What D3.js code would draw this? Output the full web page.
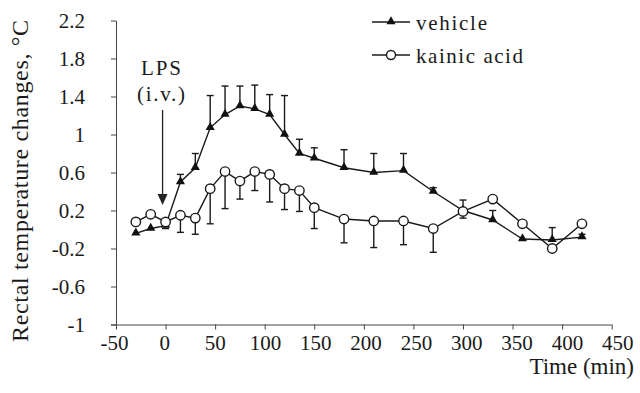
<!DOCTYPE html>
<html>
<head>
<meta charset="utf-8">
<script src="https://cdn.jsdelivr.net/npm/d3@7"></script>
<style>
  body { margin: 0; background: #fff; }
  svg text { font-family: "Liberation Serif", Tinos, "Times New Roman", serif; }
</style>
</head>
<body>
<div id="chart"></div>
<script>
// time points (min)
const times = [-30, -15, 0, 15, 30, 45, 60, 75, 90, 105, 120, 135, 150, 180, 210, 240, 270, 300, 330, 360, 390, 420]

// vehicle: mean and upper error
const vehicle = [-0.04, 0.01, 0.04, 0.50, 0.65, 1.07, 1.21, 1.30, 1.27, 1.21, 1.00, 0.80, 0.75, 0.65, 0.60, 0.62, 0.40, 0.20, 0.10, -0.10, -0.11, -0.08]
const vehicleErr = [0, 0, 0, 0.08, 0.15, 0.34, 0.30, 0.21, 0.25, 0.21, 0.41, 0.15, 0.11, 0.19, 0.20, 0.18, 0.04, 0.11, 0.10, 0, 0.13, 0.03]

// kainic acid: mean and lower error
const kainic = [0.08, 0.16, 0.08, 0.15, 0.12, 0.43, 0.61, 0.51, 0.61, 0.58, 0.43, 0.41, 0.23, 0.11, 0.09, 0.09, 0.01, 0.19, 0.32, 0.06, -0.20, 0.06]
const kainicErr = [0, 0, 0.07, 0.18, 0.17, 0.37, 0.39, 0.19, 0.20, 0.29, 0.22, 0.22, 0.22, 0.25, 0.28, 0.25, 0.25, 0.07, 0.02, 0.02, 0.03, 0]

const xTicks = [-50, 0, 50, 100, 150, 200, 250, 300, 350, 400, 450]
const yTicks = [-1, -0.6, -0.2, 0.2, 0.6, 1, 1.4, 1.8, 2.2]

const width = 640, height = 393
const serif = 'Liberation Serif'
const ink = '#1a1a1a'

const svg = d3.select('#chart').append('svg')
  .attr('width', width)
  .attr('height', height)
  .attr('font-family', serif)

svg.append('rect').attr('width', width).attr('height', height).attr('fill', '#fff')

const x = d3.scaleLinear().domain([-50, 450]).range([116, 611.7])
const y = d3.scaleLinear().domain([-1, 2.2]).range([324.5, 20.5])

const fmt = d => String(d).replace('−', '-')

// axes
const xAxis = svg.append('g')
  .attr('transform', `translate(0,${y(-1)})`)
  .call(d3.axisBottom(x).tickValues(xTicks).tickSize(5).tickSizeOuter(0).tickPadding(6).tickFormat(fmt))
const yAxis = svg.append('g')
  .attr('transform', `translate(${x(-50)},0)`)
  .call(d3.axisLeft(y).tickValues(yTicks).tickSize(5).tickSizeOuter(0).tickPadding(26).tickFormat(fmt))

;[xAxis, yAxis].forEach(a => {
  a.attr('font-family', serif)
  a.selectAll('path, line').attr('stroke', '#444').attr('stroke-width', 1)
  a.selectAll('text').attr('font-size', 21).attr('fill', ink)
})
// labels drift a little to the right along the axis in the original
xAxis.selectAll('text').attr('dx', d => (d + 50) * 0.015 - 2)
xAxis.select('.domain').attr('d', `M${x(-50) - 5},0.5H${x(450)}`)

// axis titles
svg.append('text')
  .attr('transform', `translate(28,181) rotate(-90)`)
  .attr('text-anchor', 'middle')
  .attr('font-size', 24)
  .attr('textLength', 322)
  .text('Rectal temperature changes, °C')

svg.append('text')
  .attr('x', 634).attr('y', 374)
  .attr('text-anchor', 'end')
  .attr('font-size', 23)
  .text('Time (min)')

// LPS arrow
svg.append('text').attr('x', 161).attr('y', 75).attr('text-anchor', 'middle').attr('font-size', 21)
  .attr('textLength', 40).text('LPS')
svg.append('text').attr('x', 161).attr('y', 101).attr('text-anchor', 'middle').attr('font-size', 21)
  .attr('textLength', 48).text('(i.v.)')
const ax = x(0) - 3
svg.append('line').attr('x1', ax).attr('x2', ax).attr('y1', 110).attr('y2', 196)
  .attr('stroke', '#222').attr('stroke-width', 1.3)
svg.append('path')
  .attr('d', `M${ax - 5},${194}L${ax + 5},${194}L${ax},${205}Z`)
  .attr('fill', '#222')

const line = d3.line().x((d, i) => x(times[i])).y(d => y(d))
const tri = d3.symbol().type(d3.symbolTriangle).size(36)

function drawSeries(vals, errs, dir, marker) {
  const g = svg.append('g')
  // error bars
  vals.forEach((v, i) => {
    if (!errs[i]) return
    const cx = x(times[i])
    const e = v + dir * errs[i]
    g.append('line').attr('x1', cx).attr('x2', cx).attr('y1', y(v)).attr('y2', y(e))
      .attr('stroke', ink).attr('stroke-width', 1.4)
    g.append('line').attr('x1', cx - 3.5).attr('x2', cx + 3.5).attr('y1', y(e)).attr('y2', y(e))
      .attr('stroke', ink).attr('stroke-width', 1.4)
  })
  g.append('path').datum(vals).attr('d', line)
    .attr('fill', 'none').attr('stroke', ink).attr('stroke-width', 1.4)
  if (marker === 'tri') {
    g.selectAll('path.m').data(vals).join('path').attr('class', 'm')
      .attr('d', tri)
      .attr('transform', (d, i) => `translate(${x(times[i])},${y(d) - 0.5})`)
      .attr('fill', '#111')
  } else {
    g.selectAll('circle').data(vals).join('circle')
      .attr('cx', (d, i) => x(times[i])).attr('cy', d => y(d)).attr('r', 4.7)
      .attr('fill', '#fff').attr('stroke', ink).attr('stroke-width', 1.4)
  }
}

drawSeries(vehicle, vehicleErr, 1, 'tri')
drawSeries(kainic, kainicErr, -1, 'circle')

// legend
const legend = [
  { name: 'vehicle', marker: 'tri', y: 22, w: 71 },
  { name: 'kainic acid', marker: 'circle', y: 55, w: 107 }
]
legend.forEach(l => {
  svg.append('line').attr('x1', 372).attr('x2', 410).attr('y1', l.y).attr('y2', l.y)
    .attr('stroke', ink).attr('stroke-width', 1.4)
  if (l.marker === 'tri') {
    svg.append('path').attr('d', tri).attr('transform', `translate(391,${l.y - 0.5})`).attr('fill', '#111')
  } else {
    svg.append('circle').attr('cx', 391).attr('cy', l.y).attr('r', 4.5)
      .attr('fill', '#fff').attr('stroke', ink).attr('stroke-width', 1.4)
  }
  svg.append('text').attr('x', 416).attr('y', l.y + 7.5).attr('font-size', 21)
    .attr('textLength', l.w).text(l.name)
})

svg.selectAll('text').attr('fill', ink)
</script>
</body>
</html>
